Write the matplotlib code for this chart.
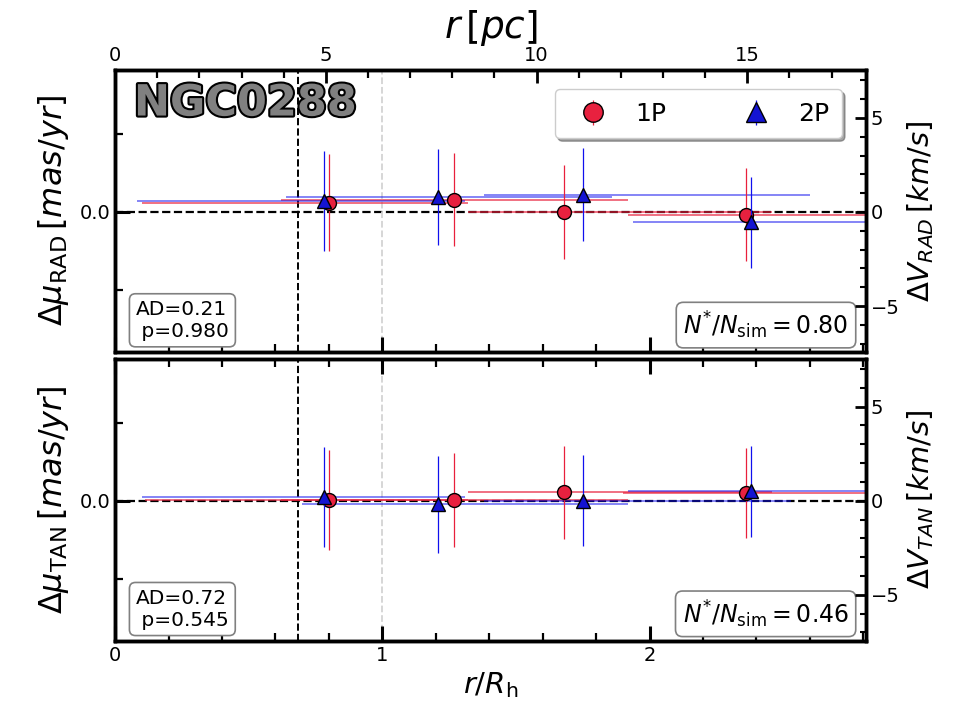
import numpy as np
import matplotlib.pyplot as plt
import matplotlib.patheffects as pe
from matplotlib.ticker import MultipleLocator, FormatStrFormatter, FixedLocator

# ------------------------------------------------------------------
# data (x in r/Rh, y in mas/yr)
# ------------------------------------------------------------------
RH_PC = 6.34          # half-light radius in pc (top axis)
KMS_PER_MASYR = 8.3   # right axis conversion

x_1p = [0.80, 1.27, 1.68, 2.36]
x_2p = [0.78, 1.21, 1.75, 2.38]

# radial component
rad_1p = [0.058, 0.079, -0.002, -0.017]
rad_1p_err = [0.31, 0.30, 0.30, 0.30]
rad_1p_lo = [0.10, 0.62, 1.32, 1.92]
rad_1p_hi = [1.32, 1.92, 2.46, 3.00]
rad_2p = [0.072, 0.096, 0.111, -0.067]
rad_2p_err = [0.32, 0.31, 0.30, 0.29]
rad_2p_lo = [0.08, 0.64, 1.38, 1.94]
rad_2p_hi = [1.31, 1.86, 2.60, 3.00]

# tangential component
tan_1p = [0.006, 0.006, 0.053, 0.049]
tan_1p_err = [0.32, 0.30, 0.30, 0.29]
tan_1p_lo = [0.11, 0.62, 1.32, 1.90]
tan_1p_hi = [1.32, 1.92, 2.46, 3.00]
tan_2p = [0.026, -0.022, 0.0, 0.060]
tan_2p_err = [0.32, 0.31, 0.29, 0.29]
tan_2p_lo = [0.10, 0.70, 1.38, 1.92]
tan_2p_hi = [1.31, 1.92, 2.53, 3.00]

ad_text = ["AD=0.21\n p=0.980", "AD=0.72\n p=0.545"]
nfrac_text = [r"$N^{*}/N_{\rm sim} = 0.80$", r"$N^{*}/N_{\rm sim} = 0.46$"]
ylab_left = [r"$\Delta\mu_{\rm RAD}\,[mas/yr]$", r"$\Delta\mu_{\rm TAN}\,[mas/yr]$"]
ylab_right = [r"$\Delta V_{RAD}\,[km/s]$", r"$\Delta V_{TAN}\,[km/s]$"]
pc_ticks = [0, 5, 10, 15]

RED = '#e8213f'
BLUE = '#1414d2'
LINE_RED = '#e8203c'
LINE_BLUE = '#1010ee'

YLIM = (-0.897, 0.910)
XLIM = (0.0, 2.81)

fig = plt.figure(figsize=(9.6, 7.2), dpi=100)
ax1 = fig.add_axes([0.120, 0.511, 0.782, 0.392])
ax2 = fig.add_axes([0.120, 0.110, 0.782, 0.392])

panels = [
    (ax1, rad_1p, rad_1p_err, rad_1p_lo, rad_1p_hi, rad_2p, rad_2p_err, rad_2p_lo, rad_2p_hi),
    (ax2, tan_1p, tan_1p_err, tan_1p_lo, tan_1p_hi, tan_2p, tan_2p_err, tan_2p_lo, tan_2p_hi),
]

handles = []
for i, (ax, y1, e1, lo1, hi1, y2, e2, lo2, hi2) in enumerate(panels):
    x1 = np.array(x_1p); x2 = np.array(x_2p)
    xe1 = [x1 - np.array(lo1), np.array(hi1) - x1]
    xe2 = [x2 - np.array(lo2), np.array(hi2) - x2]

    ax.axhline(0, color='k', ls='--', lw=1.6, zorder=1)
    ax.axvline(0.685, color='k', ls='--', lw=1.4, zorder=1)
    ax.axvline(1.0, color='lightgray', ls='--', lw=1.3, zorder=1)

    # bin widths (horizontal bars)
    ax.errorbar(x1, y1, xerr=xe1, fmt='none', ecolor=LINE_RED, elinewidth=1.2, alpha=0.75, zorder=2)
    ax.errorbar(x2, y2, xerr=xe2, fmt='none', ecolor=LINE_BLUE, elinewidth=1.2, alpha=0.6, zorder=2)
    # vertical errors + markers
    h1 = ax.errorbar(x1, y1, yerr=e1, fmt='o', color=RED, mfc=RED, mec='k', mew=1.0, ms=10,
                     ecolor=LINE_RED, elinewidth=0.9, zorder=4, label='1P')
    h2 = ax.errorbar(x2, y2, yerr=e2, fmt='^', color=BLUE, mfc=BLUE, mec='k', mew=1.0, ms=10,
                     ecolor=LINE_BLUE, elinewidth=0.9, zorder=5, label='2P')
    if i == 0:
        handles = [h1, h2]

    ax.set_xlim(XLIM)
    ax.set_ylim(YLIM)
    ax.yaxis.set_major_locator(MultipleLocator(1.0))
    ax.yaxis.set_minor_locator(MultipleLocator(0.5))
    ax.yaxis.set_major_formatter(FormatStrFormatter('%.1f'))
    ax.xaxis.set_major_locator(MultipleLocator(1.0))
    ax.xaxis.set_minor_locator(MultipleLocator(0.2))
    ax.tick_params(which='both', direction='in', right=False, labelsize=14)
    ax.tick_params(which='major', length=11, width=2.2)
    ax.tick_params(which='minor', length=6, width=1.6)
    ax.set_ylabel(ylab_left[i], fontsize=23, labelpad=6)
    for sp in ax.spines.values():
        sp.set_linewidth(2.5)

    # right axis in km/s
    axr = ax.twinx()
    axr.set_ylim(YLIM[0] * KMS_PER_MASYR, YLIM[1] * KMS_PER_MASYR)
    axr.yaxis.set_major_locator(MultipleLocator(5))
    axr.yaxis.set_minor_locator(MultipleLocator(1))
    axr.tick_params(which='both', direction='in', labelsize=14)
    axr.tick_params(which='major', length=8, width=2)
    axr.tick_params(which='minor', length=4, width=1.5)
    axr.set_ylabel(ylab_right[i], fontsize=21)
    for sp in axr.spines.values():
        sp.set_linewidth(2.5)

    box = dict(boxstyle='round,pad=0.3', fc='white', ec='gray', lw=1.2)
    ax.text(0.027, 0.04, ad_text[i], transform=ax.transAxes, fontsize=14.5,
            ha='left', va='bottom', bbox=box, zorder=10)
    ax.text(0.977, 0.04, nfrac_text[i], transform=ax.transAxes, fontsize=17,
            ha='right', va='bottom', bbox=box, zorder=10)

# top panel: pc axis on top
ax1.tick_params(which='both', top=False, labelbottom=False, bottom=True)
secax = ax1.secondary_xaxis('top', functions=(lambda x: x * RH_PC, lambda x: x / RH_PC))
secax.xaxis.set_major_locator(FixedLocator(pc_ticks))
secax.xaxis.set_minor_locator(MultipleLocator(1))
secax.tick_params(which='both', direction='in', labelsize=14)
secax.tick_params(which='major', length=9, width=2)
secax.tick_params(which='minor', length=6, width=1.6)
secax.set_xlabel(r"$r\,[pc]$", fontsize=27, labelpad=6)

ax2.tick_params(which='both', top=True)
ax2.set_xlabel(r"$r/R_{\rm h}$", fontsize=21)

ax1.text(0.025, 0.955, "NGC0288", transform=ax1.transAxes, fontsize=31, fontweight='bold',
         color='gray', ha='left', va='top', zorder=10,
         path_effects=[pe.withStroke(linewidth=3, foreground='k')])

leg = ax1.legend(handles=handles, labels=['1P', '2P'], loc='upper right', ncol=2, fontsize=18,
                 shadow=True, fancybox=True, framealpha=1, columnspacing=2.6, markerscale=1.4,
                 handletextpad=0.7, borderpad=0.5, bbox_to_anchor=(0.985, 0.975))
leg.set_zorder(20)

fig.savefig('out.png', dpi=100)
